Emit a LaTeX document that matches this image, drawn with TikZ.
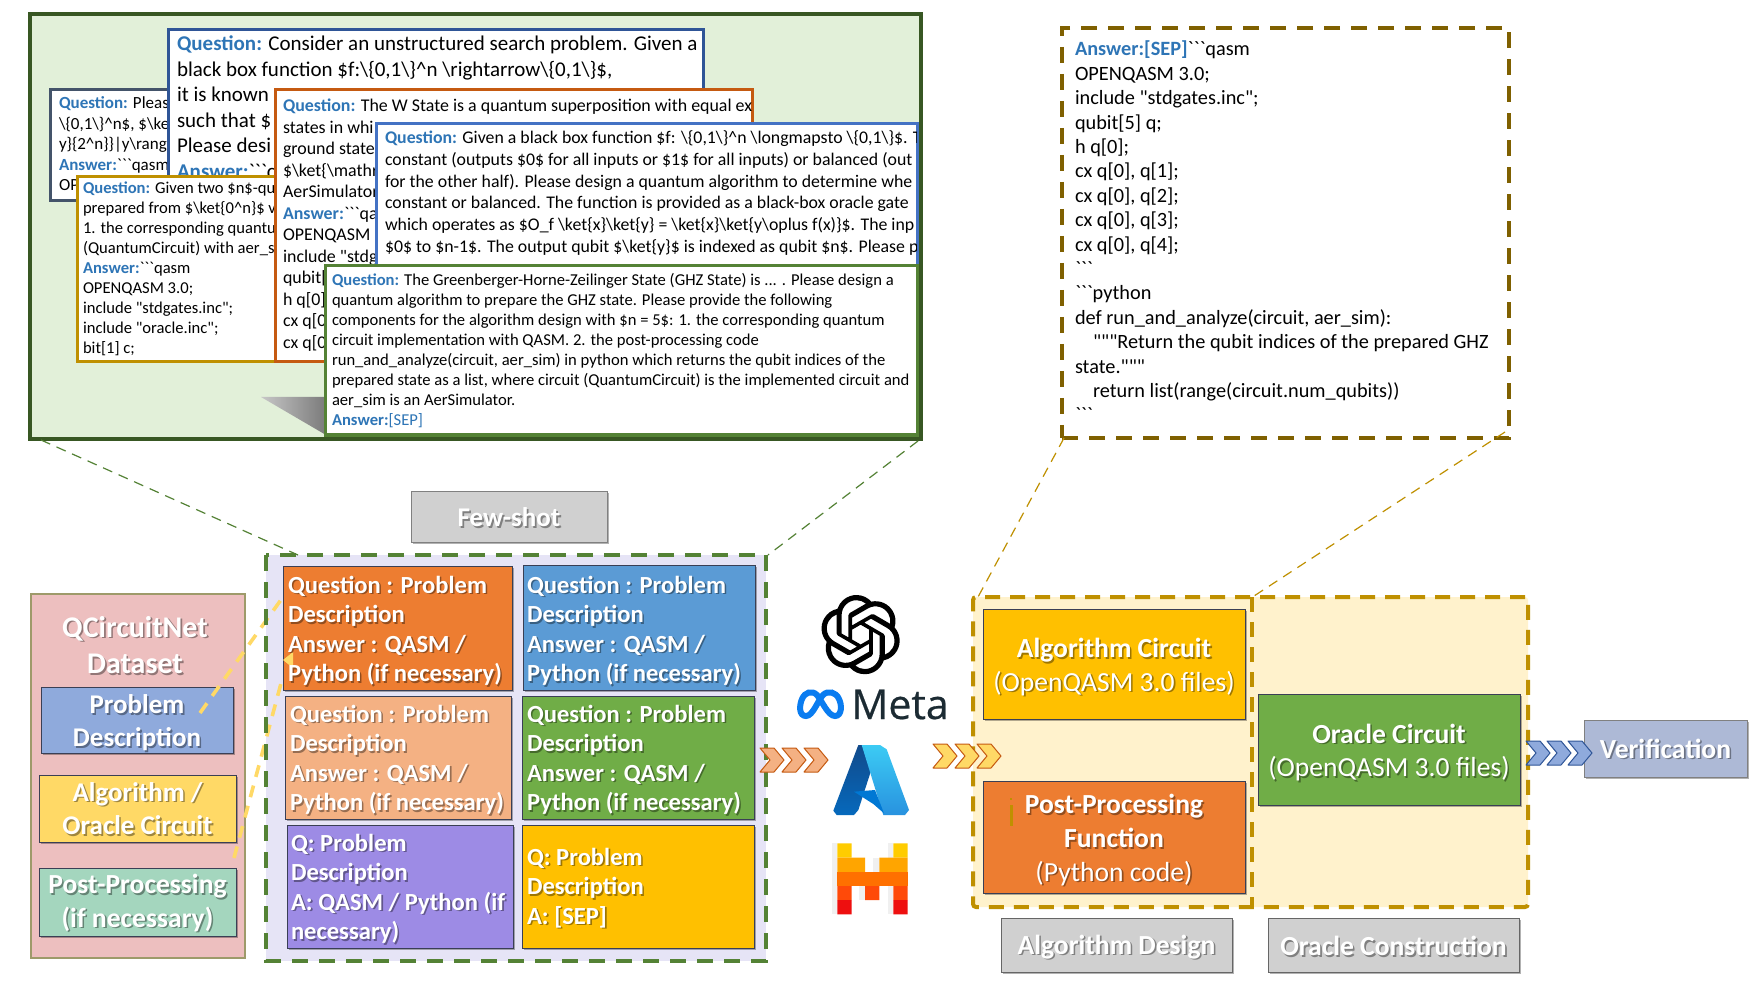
\documentclass[tikz,border=0pt]{standalone}
\usepackage{fontspec}
\setmainfont{Carlito}[Ligatures=TeXOff]
\newfontfamily\metafont{Open Sans}[FakeBold=0.5]
\usetikzlibrary{calc,shadows,svg.path}
\definecolor{qblue}{HTML}{2E75B6}
\definecolor{lgreen}{HTML}{E2F0D9}
\definecolor{dgreen}{HTML}{385723}
\definecolor{mgreen}{HTML}{548235}
\definecolor{bblue}{HTML}{2F5597}
\definecolor{navy}{HTML}{44546A}
\definecolor{dorange}{HTML}{C55A11}
\definecolor{gold}{HTML}{BF9000}
\definecolor{rblue}{HTML}{4472C4}
\definecolor{brown}{HTML}{7F6000}
\definecolor{pinkbg}{HTML}{EDBFBF}
\definecolor{lavbg}{HTML}{E6E4F6}
\definecolor{creambg}{HTML}{FFF2CC}
\definecolor{cOrange}{HTML}{ED7D31}
\definecolor{cBlue}{HTML}{5B9BD5}
\definecolor{cPeach}{HTML}{F4B183}
\definecolor{cGreen}{HTML}{70AD47}
\definecolor{cPurple}{HTML}{9D8BE5}
\definecolor{cYellow}{HTML}{FFC000}
\definecolor{cPale}{HTML}{FFD966}
\definecolor{cProb}{HTML}{8FAADC}
\definecolor{cMint}{HTML}{A4D6BE}
\definecolor{cGrey}{HTML}{D0D0D0}
\definecolor{cVerif}{HTML}{ADB9D6}
\definecolor{metaDark}{HTML}{1C2B33}
\definecolor{metaBlue}{HTML}{0A7CF0}
\definecolor{azA}{HTML}{114A8B}
\definecolor{azB}{HTML}{0669BC}
\definecolor{azC}{HTML}{3CCBF4}
\definecolor{azD}{HTML}{2892DF}
\definecolor{azE}{HTML}{0078D4}
\definecolor{mA}{HTML}{FFCC00}
\definecolor{mB}{HTML}{FFA500}
\definecolor{mC}{HTML}{FF7000}
\definecolor{mD}{HTML}{FF4A09}
\definecolor{mE}{HTML}{EE0F0F}
\definecolor{tileEdge}{HTML}{3A3F55}
\tikzset{
  rbox/.style={rectangle,inner sep=0pt,outer sep=0pt},
  card/.style={rbox,fill=white,line width=1.5pt},
  tile/.style={rbox,draw=tileEdge,line width=.45pt,drop shadow={shadow xshift=1pt,shadow yshift=-1pt,opacity=.3,fill=black}},
  wtxt/.style={inner sep=0pt,outer sep=0pt,align=left},
  ctxt/.style={inner sep=0pt,outer sep=0pt,align=center},
  link/.style={dashed,dash pattern=on 5pt off 3.5pt,line width=.6pt},
  stray/.style={color=cPale,line width=1.8pt,dash pattern=on 6pt off 4.5pt},
  cardtxt/.style={anchor=north west,inner sep=0pt,outer sep=0pt,align=left,text=black},
  tt/.style={font=\bfseries\fontsize{12.3}{14.75}\selectfont},
  lab/.style={font=\bfseries\fontsize{13.5}{16.6}\selectfont},
  labb/.style={font=\fontsize{13.8}{16.8}\selectfont},
}
\newcommand\bs{\textbackslash}
\newcommand\btk{`\kern0pt`\kern0pt`}
\newcommand\Q[1]{{\color{qblue}\bfseries #1}}
\newcommand\bx[6][]{%
  \pgfmathsetmacro\bxw{(#5-#3)*.5}\pgfmathsetmacro\bxh{(#6-#4)*.5}%
  \node[rbox,#1,anchor=north west,minimum width=\bxw pt,minimum height=\bxh pt] (#2) at (#3,#4) {};}
% white text with a soft dark copy behind it
\newcommand\wt[4][]{%
  \node[#1,text=black,text opacity=.38] at ([shift={(1.6,1.6)}]#3) {#4};
  \node[#1,text=white] (#2) at (#3) {#4};}
\newcommand\chev[6]{%
  \fill[#5,draw=#6,line width=.5pt,line join=round]
   (#1,#2) -- ++(#3-10,0) -- ++(10,#4/2) -- ++(-10,#4/2) -- ++(-#3+10,0) -- ++(10,-#4/2) -- cycle;}
\begin{document}
\begin{tikzpicture}[x=.5pt,y=-.5pt]
\useasboundingbox (0,0) rectangle (1764,988);
\fill[white] (0,0) rectangle (1764,988);

%% ---------- top-left panel
\bx[fill=lgreen,draw=dgreen,line width=1.8pt]{panel}{30}{14}{921}{439}
\shade[left color=black!22,right color=black!52] (261,397) -- (326,397) -- (326,435) -- cycle;

\bx[card,draw=navy]{cardNavy}{50}{90}{210}{201}
\node[cardtxt,font=\fontsize{8.5}{10.25}\selectfont] (tNavy) at (59,97) {\Q{Question:} Pleas\\\bs\{0,1\bs\}\^{}n\$, \$\bs ke\\y\}\{2\^{}n\}\}|y\bs rang\\\Q{Answer:}\btk qasm\\OP};

\bx[card,draw=bblue]{cardBig}{168}{30}{703}{195}
\node[cardtxt,font=\fontsize{10.5}{12.75}\selectfont] (tBig) at (177,36) {\Q{Question:} Consider an unstructured search problem. Given a\\black box function \$f:\bs\{0,1\bs\}\^{}n \bs rightarrow\bs\{0,1\bs\}\$,\\it is known\\such that \$\\Please desi\\\Q{Answer:}\btk c};

\bx[card,draw=gold]{cardGold}{77}{177}{290}{362}
\node[cardtxt,font=\fontsize{8.3}{10}\selectfont] (tGold) at (83,182) {\Q{Question:} Given two \$n\$-qu\\prepared from \$\bs ket\{0\^{}n\}\$ v\\1. the corresponding quantu\\(QuantumCircuit) with aer\_s\\\Q{Answer:}\btk qasm\\OPENQASM 3.0;\\include "stdgates.inc";\\include "oracle.inc";\\bit[1] c;};

\bx[card,draw=dorange]{cardOrange}{275}{90}{752}{362}
\begin{scope}
\clip (276,91) rectangle (751,361);
\node[cardtxt,font=\fontsize{8.95}{10.75}\selectfont] (tOrange) at (283,99) {\Q{Question:} The W State is a quantum superposition with equal ex\\states in whi\\ground state\\\$\bs ket\{\bs mathr\\AerSimulator\\\Q{Answer:}\btk qa\\OPENQASM 3\\include "stdg\\qubit[\\h q[0]\\cx q[0\\cx q[0};
\end{scope}

\bx[card,draw=rblue]{cardBlue}{376}{124}{917}{275}
\begin{scope}
\clip (377,125) rectangle (916,274);
\node[cardtxt,font=\fontsize{8.9}{10.85}\selectfont] (tBlue) at (385,131) {\Q{Question:} Given a black box function \$f: \bs\{0,1\bs\}\^{}n \bs longmapsto \bs\{0,1\bs\}\$. T\\constant (outputs \$0\$ for all inputs or \$1\$ for all inputs) or balanced (out\\for the other half). Please design a quantum algorithm to determine whe\\constant or balanced. The function is provided as a black-box oracle gate\\which operates as \$O\_f \bs ket\{x\}\bs ket\{y\} = \bs ket\{x\}\bs ket\{y\bs oplus f(x)\}\$. The inp\\\$0\$ to \$n-1\$. The output qubit \$\bs ket\{y\}\$ is indexed as qubit \$n\$. Please p};
\end{scope}

\bx[card,draw=mgreen]{cardGreen}{325}{266}{917}{435}
\node[cardtxt,font=\fontsize{8.3}{10}\selectfont] (tGreen) at (332,273.5) {\Q{Question:} The Greenberger-Horne-Zeilinger State (GHZ State) is ... .  Please design a\\quantum algorithm to prepare the GHZ state. Please provide the following\\components for the algorithm design with \$n = 5\$: 1. the corresponding quantum\\circuit implementation with QASM. 2. the post-processing code\\run\_and\_analyze(circuit, aer\_sim) in python which returns the qubit indices of the\\prepared state as a list, where circuit (QuantumCircuit) is the implemented circuit and\\aer\_sim is an AerSimulator.\\{\color{qblue}\bfseries Answer:}{\color{qblue}[SEP]}};

%% ---------- top-right code panel
\bx[fill=white,draw=brown,line width=2pt,dash pattern=on 8pt off 5.5pt]{code}{1062}{28}{1509}{438}
\node[cardtxt,font=\fontsize{10.15}{12.2}\selectfont] (tCode) at (1075,41) {\Q{Answer:[SEP]}\btk qasm\\OPENQASM 3.0;\\include "stdgates.inc";\\qubit[5] q;\\h q[0];\\cx q[0], q[1];\\cx q[0], q[2];\\cx q[0], q[3];\\cx q[0], q[4];\\\btk\\\btk python\\def run\_and\_analyze(circuit, aer\_sim):\\\hspace*{9pt}"""Return the qubit indices of the prepared GHZ\\state."""\\\hspace*{9pt}return list(range(circuit.num\_qubits))\\\btk};

%% ---------- dataset panel
\bx[fill=pinkbg,draw=black!45!olive!60,line width=.6pt]{pink}{31}{594}{245}{958}
\wt[ctxt,font=\bfseries\fontsize{15}{18.3}\selectfont]{tDataset}{135,645}{QCircuitNet\\Dataset}
\bx[tile,fill=cProb]{bProb}{41}{687}{233}{753}
\bx[tile,fill=cPale]{bAlgo}{39}{775}{236}{842}
\bx[tile,fill=cMint]{bPost}{39}{868}{236}{936}
\wt[ctxt,lab]{tProb}{$(bProb.center)+(0,3)$}{Problem\\Description}
\wt[ctxt,lab]{tAlgo}{bAlgo.center}{Algorithm /\\Oracle Circuit}
\wt[ctxt,font=\bfseries\fontsize{13.8}{16.8}\selectfont]{tPost}{$(bPost.center)+(0,1)$}{Post-Processing\\(if necessary)}

%% ---------- few-shot panel
\bx[fill=lavbg]{lav}{266}{555}{766}{961}
\coordinate (sA) at (200,713);
\coordinate (sB) at (283,597);
\coordinate (sC) at (234,858);
\coordinate (sD) at (283,676);
\draw[stray] (sA) -- (sB);
\draw[stray] (sC) -- (sD);
\draw[draw=mgreen,line width=2pt,dash pattern=on 8pt off 5.5pt] (lav.north west) rectangle (lav.south east);
\bx[tile,fill=cOrange]{q1}{283}{566}{512}{690}
\bx[tile,fill=cBlue]{q2}{523}{565}{755}{690}
\bx[tile,fill=cPeach]{q3}{285}{696}{511}{819}
\bx[tile,fill=cGreen]{q4}{522}{696}{754}{819}
\bx[tile,fill=cPurple]{q5}{287}{825}{513}{948}
\bx[tile,fill=cYellow]{q6}{522}{825}{754}{948}
\fill[cPale] (283,660) -- (293,652) -- (293,668) -- cycle;
\wt[wtxt,anchor=north west,tt]{t1}{288,576}{Question : Problem\\Description\\Answer : QASM /\\Python (if necessary)}
\wt[wtxt,anchor=north west,tt]{t2}{527,576}{Question : Problem\\Description\\Answer : QASM /\\Python (if necessary)}
\wt[wtxt,anchor=north west,tt]{t3}{290,705}{Question : Problem\\Description\\Answer : QASM /\\Python (if necessary)}
\wt[wtxt,anchor=north west,tt]{t4}{527,705}{Question : Problem\\Description\\Answer : QASM /\\Python (if necessary)}
\wt[wtxt,anchor=north west,tt]{t5}{291,834}{Q: Problem\\Description\\A: QASM / Python (if\\necessary)}
\wt[wtxt,anchor=north west,tt]{t6}{527,848}{Q: Problem\\Description\\A: [SEP]}

\bx[tile,fill=cGrey,draw=black!50]{few}{411}{491}{607}{542}
\wt[ctxt,lab]{tFew}{$(few.center)+(0,1)$}{Few-shot}

%% ---------- zoom connectors
\coordinate (pL) at (41,440);
\coordinate (pR) at (918,441);
\coordinate (lL) at (298,555);
\coordinate (lR) at (768,555);
\draw[link,draw=mgreen] (pL) -- (lL);
\draw[link,draw=mgreen] (pR) -- (lR);

%% ---------- output panel
\bx[fill=creambg,draw=gold,line width=2pt,dash pattern=on 7.5pt off 5pt,rounded corners=1.5pt]{cream}{973}{597}{1528}{907}
\coordinate (midT) at (1252,597);
\coordinate (midB) at (1252,907);
\draw[draw=gold,line width=2pt,dash pattern=on 7.5pt off 5pt] (midT) -- (midB);
\coordinate (cL) at (1064,438);
\coordinate (cR) at (1505,432);
\coordinate (oL) at (978,597);
\coordinate (oR) at (1254,596);
\draw[link,draw=gold] (cL) -- (oL);
\draw[link,draw=gold] (cR) -- (oR);
\bx[tile,fill=cYellow]{bAC}{983}{609}{1245}{719}
\bx[tile,fill=cOrange]{bPF}{983}{781}{1245}{893}
\bx[tile,fill=cGreen]{bOC}{1258}{694}{1520}{805}
\bx[tile,fill=cVerif,draw=black!50]{bV}{1584}{720}{1747}{777}
\bx[tile,fill=cGrey,draw=black!60]{bAD}{1001}{918}{1232}{972}
\bx[tile,fill=cGrey,draw=black!60]{bOD}{1268}{918}{1519}{972}
\wt[ctxt,labb]{tAC}{$(bAC.center)+(0,3)$}{\textbf{Algorithm Circuit}\\(OpenQASM 3.0 files)}
\wt[ctxt,labb]{tPF}{$(bPF.center)+(0,3)$}{\textbf{Post-Processing}\\\textbf{Function}\\(Python code)}
\wt[ctxt,labb]{tOC}{$(bOC.center)+(0,3)$}{\textbf{Oracle Circuit}\\(OpenQASM 3.0 files)}
\wt[ctxt,labb]{tV}{bV.center}{\textbf{Verification}}
\wt[ctxt,labb]{tAD}{$(bAD.center)+(0,2)$}{\textbf{Algorithm Design}}
\wt[ctxt,labb]{tOD}{$(bOD.center)+(0,1)$}{\textbf{Oracle Construction}}
\draw[draw=gold,line width=1.5pt] (1011,805) -- (1011,826);
\fill[gold] (1010,798) rectangle (1012,800);

%% ---------- chevrons
\chev{760}{748}{24}{24}{cPeach}{dorange}
\chev{782}{748}{24}{24}{cPeach}{dorange}
\chev{804}{748}{24}{24}{cPeach}{dorange}
\chev{933}{744}{24}{24}{cPale}{dorange}
\chev{955}{744}{24}{24}{cPale}{dorange}
\chev{977}{744}{24}{24}{cPale}{dorange}
\chev{1526}{741}{24}{24}{cProb}{bblue}
\chev{1547}{741}{24}{24}{cProb}{bblue}
\chev{1568}{741}{24}{24}{cProb}{bblue}

%% ---------- logos
\begin{scope}[shift={(821,595)},scale=1.65,yscale=-1]
\fill[black] svg {M22.2819 9.8211 a5.9847 5.9847 0 0 0 -0.5157 -4.9108 a6.0462 6.0462 0 0 0 -6.5098 -2.9 A6.0651 6.0651 0 0 0 4.9807 4.1818 a5.9847 5.9847 0 0 0 -3.9977 2.9 a6.0462 6.0462 0 0 0 0.7427 7.0966 a5.98 5.98 0 0 0 0.511 4.9107 a6.051 6.051 0 0 0 6.5146 2.9001 A5.9847 5.9847 0 0 0 13.2599 24 a6.0557 6.0557 0 0 0 5.7718 -4.2058 a5.9894 5.9894 0 0 0 3.9977 -2.9001 a6.0557 6.0557 0 0 0 -0.7475 -7.0729 z
M13.2599 22.4292 a4.4755 4.4755 0 0 1 -2.8764 -1.0408 l0.1419 -0.0804 l4.7783 -2.7582 l0.3927 -0.6813 v-6.7369 l2.02 1.1686 l0.038 0.052 v5.5826 a4.504 4.504 0 0 1 -4.4945 4.4944 z
M3.5992 18.3038 a4.4708 4.4708 0 0 1 -0.5346 -3.0137 l0.142 0.0852 l4.783 2.7582 l0.7806 0 l5.8428 -3.3685 v2.3324 l-0.0332 0.0615 L9.74 19.9502 a4.4992 4.4992 0 0 1 -6.1408 -1.6464 z
M2.3408 7.8956 a4.485 4.485 0 0 1 2.3655 -1.9728 V11.6 l0.3879 0.6765 l5.8144 3.3543 l-2.0201 1.1685 l-0.071 0 l-4.8303 -2.7865 A4.504 4.504 0 0 1 2.3408 7.8956 z
M18.9371 11.7514 L13.1038 8.364 L15.1192 7.2 l0.071 0 l4.8303 2.7913 a4.4944 4.4944 0 0 1 -0.6765 8.1042 v-5.6772 l-0.407 -0.667 z
M20.9478 8.7283 l-0.142 -0.0852 l-4.7735 -2.7818 l-0.7854 0 L9.409 9.2297 V6.8974 l0.0284 -0.0615 l4.8303 -2.7866 a4.4992 4.4992 0 0 1 6.6802 4.66 z
M8.3065 12.863 l-2.02 -1.1638 l-0.038 -0.0567 V6.0742 a4.4992 4.4992 0 0 1 7.3757 -3.4537 l-0.142 0.0805 L8.704 5.459 l-0.3927 0.6813 z
M9.4041 10.4976 l2.602 -1.4998 l2.6069 1.4998 v2.9994 l-2.5974 1.4997 l-2.6067 -1.4997 z};
\end{scope}

% Meta
\draw[color=metaBlue,line width=3pt] (806,716) .. controls (799,716) and (799,706) .. (802,699) .. controls (805,692) and (812,690) .. (817,695) .. controls (822,701) and (828,716) .. (835,716) .. controls (842,716) and (842,705) .. (839,699) .. controls (836,692) and (828,690) .. (823,695) .. controls (818,700) and (813,716) .. (806,716) -- cycle;
\node[anchor=base west,inner sep=0pt,text=metaDark,font=\metafont\fontsize{20.5}{24}\selectfont] (tMeta) at (851,719) {Meta};

% Azure
\begin{scope}[shift={(790,580)},x=.1666667pt,y=-.1666667pt]
\shade[top color=azA,bottom color=azB] (205,495) -- (268,495) -- (205,690) -- (192,705) -- (140,705) -- (130,692) -- cycle;
\shade[top color=azC,bottom color=azD] (215,495) -- (270,495) -- (290,508) -- (357,690) -- (345,705) -- (280,705) -- cycle;
\fill[azE] (192,635) -- (255,630) -- (282,700) -- (250,672) -- cycle;
\end{scope}

% Mistral
\begin{scope}[shift={(790,580)},x=.1666667pt,y=-.1666667pt]
\fill[black!6] (125,790) rectangle (142,1003);
\fill[black!6] (248,833) rectangle (268,876);
\fill[black!6] (208,918) rectangle (225,960);
\fill[black!6] (293,790) rectangle (310,833);
\fill[black!6] (293,918) rectangle (310,1003);
\fill[mA] (142,790) rectangle (185,833) (310,790) rectangle (353,833);
\fill[mB] (142,833) rectangle (225,876) (268,833) rectangle (353,876);
\fill[mC] (142,876) rectangle (353,918);
\fill[mD] (142,918) rectangle (185,960) (225,918) rectangle (268,960) (310,918) rectangle (353,960);
\fill[mE] (142,960) rectangle (185,1003) (310,960) rectangle (353,1003);
\end{scope}
\end{tikzpicture}
\end{document}
